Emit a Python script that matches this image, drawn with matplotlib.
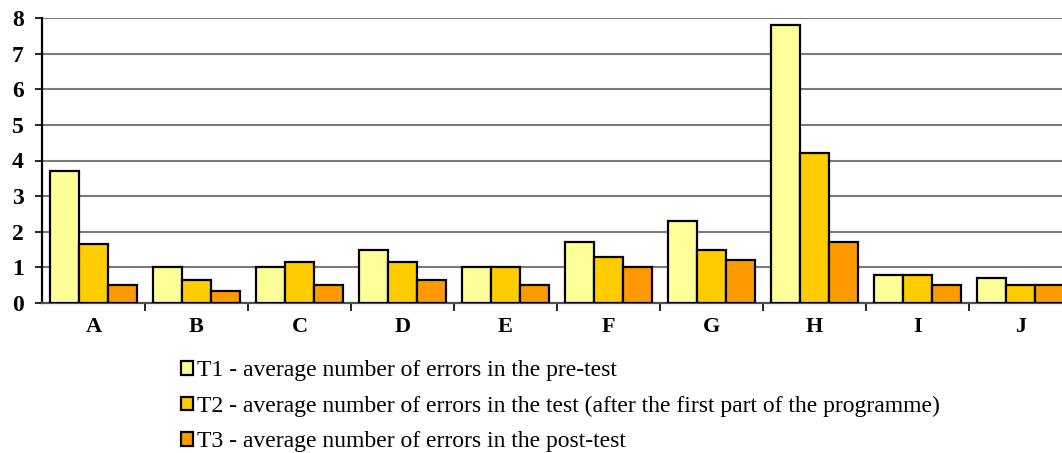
import numpy as np
import matplotlib.pyplot as plt
from matplotlib.ticker import FixedLocator

plt.rcParams['font.family'] = ['Liberation Serif', 'DejaVu Serif']

groups = ['A', 'B', 'C', 'D', 'E', 'F', 'G', 'H', 'I', 'J']
t1 = [3.7, 1.0, 1.0, 1.5, 1.0, 1.7, 2.3, 7.8, 0.8, 0.7]
t2 = [1.65, 0.65, 1.15, 1.15, 1.0, 1.3, 1.5, 4.2, 0.8, 0.5]
t3 = [0.5, 0.33, 0.5, 0.65, 0.5, 1.0, 1.2, 1.7, 0.5, 0.5]
labels = ['T1 - average number of errors in the pre-test',
          'T2 - average number of errors in the test (after the first part of the programme)',
          'T3 - average number of errors in the post-test']
colors = ['#FFFF99', '#FFCC00', '#FF9900']

fig = plt.figure(figsize=(10.62, 4.53), dpi=100)
# plot area runs slightly past the right edge, as in the original
ax = fig.add_axes([42 / 1062, 150 / 453, 1030 / 1062, 285 / 453])

x = np.arange(len(groups))
w = 0.28
for k, (vals, c, lab) in enumerate(zip([t1, t2, t3], colors, labels)):
    ax.bar(x + (k - 1) * w, vals, w, color=c, edgecolor='black',
           linewidth=1.6, label=lab, zorder=3)

ax.set_xlim(-0.5, len(groups) - 0.5)
ax.set_ylim(0, 8)
ax.set_yticks(range(9))
ax.yaxis.grid(True, color='#7a7a7a', linewidth=1.5, zorder=0)
ax.set_axisbelow(True)

ax.set_xticks(x)
ax.set_xticklabels(groups, fontweight='bold')
ax.xaxis.set_minor_locator(FixedLocator(np.arange(0.5, len(groups) - 0.5, 1)))
ax.tick_params(axis='x', which='major', length=0, pad=10, labelsize=16)
ax.tick_params(axis='x', which='minor', length=6, width=1.2, direction='out')
ax.tick_params(axis='y', length=5, width=1.2, direction='out', pad=8,
               labelsize=17)
for t in ax.get_yticklabels():
    t.set_fontweight('bold')

for s in ['top', 'right']:
    ax.spines[s].set_visible(False)
ax.spines['left'].set_linewidth(1.6)
ax.spines['bottom'].set_linewidth(1.6)
ax.spines['bottom'].set_color('#505050')

fig.legend(loc='upper left', bbox_to_anchor=(181 / 1062, 1 - 360 / 453),
           frameon=False, fontsize=17, handlelength=0.52, handleheight=0.52,
           handletextpad=0.15, labelspacing=0.62, borderpad=0, borderaxespad=0)

fig.savefig('out.png', dpi=100, facecolor='white')
